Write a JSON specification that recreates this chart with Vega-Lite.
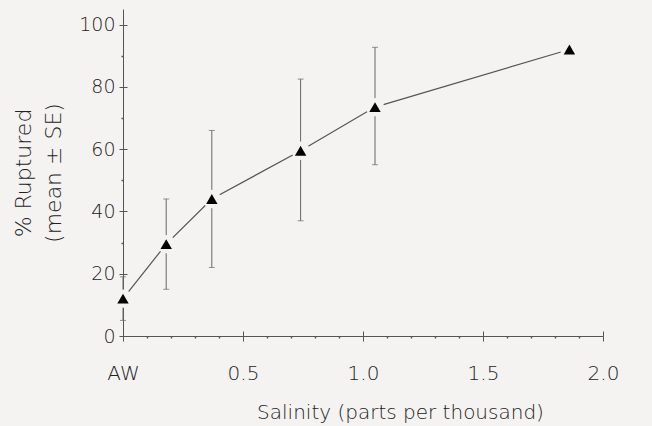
{
  "$schema": "https://vega.github.io/schema/vega-lite/v6.json",
  "width": 480,
  "height": 327,
  "autosize": {"type": "none"},
  "padding": {"left": 123, "top": 9, "right": 49, "bottom": 90},
  "background": "#f5f3f2",
  "config": {
    "view": {"stroke": null},
    "axis": {"grid": false, "labelFont": "DejaVu Sans", "titleFont": "DejaVu Sans", "labelColor": "#222", "titleColor": "#222", "domainColor": "#555", "tickColor": "#555", "labelFontWeight": 200, "titleFontWeight": 200}
  },
  "data": {"values": [
    {"salinity": 0, "pct": 12, "lo": 5, "hi": 19},
    {"salinity": 0.18, "pct": 29.5, "lo": 15, "hi": 44},
    {"salinity": 0.37, "pct": 44, "lo": 22, "hi": 66},
    {"salinity": 0.74, "pct": 59.5, "lo": 37, "hi": 82.5},
    {"salinity": 1.05, "pct": 73.5, "lo": 55, "hi": 92.7},
    {"salinity": 1.86, "pct": 92, "lo": null, "hi": null}
  ]},
  "resolve": {"axis": {"x": "independent", "y": "independent"}},
  "layer": [
    {
      "mark": {"type": "rule", "color": "#666", "strokeWidth": 1},
      "encoding": {
        "x": {"field": "salinity", "type": "quantitative", "scale": {"domain": [0, 2], "nice": false},
          "axis": {"orient": "bottom", "values": [0, 0.5, 1, 1.5, 2], "labelExpr": "datum.value == 0 ? 'AW' : format(datum.value, '.1f')", "labelFontSize": 20, "labelPadding": 22, "tickSize": 5, "title": "Salinity (parts per thousand)", "titleFontSize": 20, "titlePadding": 19, "titleX": 277, "titleAlign": "center", "labelFlush": false}},
        "y": {"field": "lo", "type": "quantitative", "scale": {"domain": [0, 105], "nice": false},
          "axis": {"orient": "left", "values": [0, 20, 40, 60, 80, 100], "labelFontSize": 19, "labelPadding": 4, "tickSize": 4, "title": ["% Ruptured", "(mean ± SE)"], "titleFontSize": 22, "titlePadding": 13, "titleLineHeight": 30}},
        "y2": {"field": "hi"}
      }
    },
    {
      "mark": {"type": "tick", "orient": "horizontal", "color": "#666", "size": 6, "thickness": 1},
      "encoding": {
        "x": {"field": "salinity", "type": "quantitative", "scale": {"domain": [0, 2], "nice": false},
          "axis": {"orient": "bottom", "values": [0, 0.5, 1, 1.5, 2], "labels": false, "domain": false, "tickSize": -5, "title": null}},
        "y": {"field": "lo", "type": "quantitative", "scale": {"domain": [0, 105], "nice": false},
          "axis": {"orient": "left", "values": [0, 20, 40, 60, 80, 100], "labels": false, "domain": false, "tickSize": -4, "title": null}}
      }
    },
    {
      "mark": {"type": "tick", "orient": "horizontal", "color": "#666", "size": 6, "thickness": 1},
      "encoding": {
        "x": {"field": "salinity", "type": "quantitative", "scale": {"domain": [0, 2], "nice": false},
          "axis": {"orient": "bottom", "values": [0.1, 0.2, 0.3, 0.4, 0.6, 0.7, 0.8, 0.9, 1.1, 1.2, 1.3, 1.4, 1.6, 1.7, 1.8, 1.9], "labels": false, "domain": false, "tickSize": 2, "tickWidth": 1.5, "title": null}},
        "y": {"field": "hi", "type": "quantitative", "scale": {"domain": [0, 105], "nice": false},
          "axis": {"orient": "left", "values": [10, 30, 50, 70, 90], "labels": false, "domain": false, "tickSize": 2, "tickWidth": 1.5, "title": null}}
      }
    },
    {
      "mark": {"type": "line", "color": "#555", "strokeWidth": 1.2},
      "encoding": {
        "x": {"field": "salinity", "type": "quantitative", "axis": null},
        "y": {"field": "pct", "type": "quantitative", "axis": null}
      }
    },
    {
      "mark": {"type": "circle", "color": "#f5f3f2", "size": 340, "opacity": 1},
      "encoding": {
        "x": {"field": "salinity", "type": "quantitative", "axis": null},
        "y": {"field": "pct", "type": "quantitative", "axis": null}
      }
    },
    {
      "mark": {"type": "point", "shape": "triangle-up", "filled": true, "color": "#000", "size": 130, "opacity": 1},
      "encoding": {
        "x": {"field": "salinity", "type": "quantitative", "axis": null},
        "y": {"field": "pct", "type": "quantitative", "axis": null}
      }
    }
  ]
}
